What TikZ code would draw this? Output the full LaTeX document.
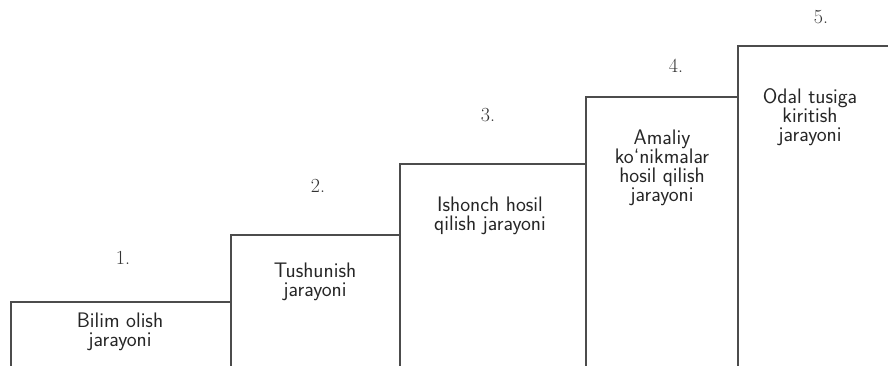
\documentclass[tikz,border=0pt]{standalone}
\usepackage{fontspec}
\begin{document}
\begin{tikzpicture}[x=1pt,y=-1pt,
  stepbox/.style={draw=black!70, line width=1.6pt, rectangle, inner sep=0pt, anchor=north west},
  steptext/.style={align=center, anchor=north, font=\sffamily\fontsize{21}{19}\selectfont, text=black!85, inner sep=0pt},
  numtext/.style={font=\fontsize{20}{20}\selectfont, text=black!80, inner sep=0pt}]
\useasboundingbox (0,0) rectangle (888,365);
% boxes (their bottoms run below the page edge)
\node[stepbox, minimum width=220pt, minimum height=90pt] (b1) at (10,301) {};
\node[stepbox, minimum width=169pt, minimum height=150pt] (b2) at (230,234) {};
\node[stepbox, minimum width=186pt, minimum height=220pt] (b3) at (399,163) {};
\node[stepbox, minimum width=152pt, minimum height=290pt] (b4) at (585,96) {};
\node[stepbox, minimum width=170pt, minimum height=340pt] (b5) at (737,45) {};
% numbers
\node[numtext] (n1) at (123,258) {1.};
\node[numtext] (n2) at (318,186) {2.};
\node[numtext] (n3) at (488,115) {3.};
\node[numtext] (n4) at (676,66) {4.};
\node[numtext] (n5) at (821,17) {5.};
% texts
\node[steptext] (t1) at (120,313) {Bilim olish\\jarayoni};
\node[steptext] (t2) at (315,263) {Tushunish\\jarayoni};
\node[steptext] (t3) at (490,197) {Ishonch hosil\\qilish jarayoni};
\node[steptext] (t4) at (662,130) {Amaliy\\ko‘nikmalar\\hosil qilish\\jarayoni};
\node[steptext] (t5) at (810,88) {Odal tusiga\\kiritish\\jarayoni};
\end{tikzpicture}
\end{document}
